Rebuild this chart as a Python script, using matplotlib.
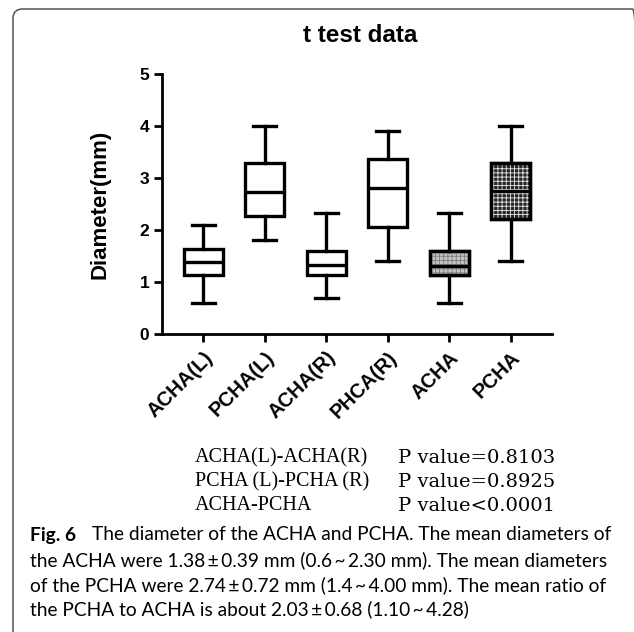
import matplotlib
matplotlib.use("Agg")
import matplotlib.pyplot as plt
from matplotlib.patches import FancyBboxPatch, Rectangle

categories = ["ACHA(L)", "PCHA(L)", "ACHA(R)", "PHCA(R)", "ACHA", "PCHA"]
whis_lo = [0.60, 1.80, 0.70, 1.40, 0.60, 1.40]
q1 = [1.13, 2.27, 1.13, 2.05, 1.14, 2.21]
median = [1.38, 2.73, 1.32, 2.80, 1.31, 2.75]
q3 = [1.63, 3.28, 1.59, 3.37, 1.59, 3.28]
whis_hi = [2.10, 4.00, 2.32, 3.90, 2.32, 4.00]
yticks = [0, 1, 2, 3, 4, 5]
title = "t test data"
ylabel = "Diameter(mm)"
pvalue_pairs = ["ACHA(L)-ACHA(R)", "PCHA (L)-PCHA (R)", "ACHA-PCHA"]
pvalue_texts = ["P value=0.8103", "P value=0.8925", "P value<0.0001"]
caption_lines = [
    "The diameter of the ACHA and PCHA. The mean diameters of",
    "the ACHA were 1.38\u2009\u00b1\u20090.39 mm (0.6\u2009~\u20092.30 mm). The mean diameters",
    "of the PCHA were 2.74\u2009\u00b1\u20090.72 mm (1.4\u2009~\u20094.00 mm). The mean ratio of",
    "the PCHA to ACHA is about 2.03\u2009\u00b1\u20090.68 (1.10\u2009~\u20094.28)",
]

W, H = 634, 632
fig = plt.figure(figsize=(W / 100, H / 100), dpi=100)
fig.patch.set_facecolor("white")
plt.rcParams["hatch.linewidth"] = 0.6

def fx(px):
    return px / W

def fy(py):
    return 1 - py / H

# outer rounded frame
frame = FancyBboxPatch((fx(13), fy(660)), fx(642) - fx(13), fy(9) - fy(660),
                       boxstyle="round,pad=0,rounding_size=0.015",
                       transform=fig.transFigure, facecolor="none",
                       edgecolor="#555555", linewidth=1.1, clip_on=False)
fig.patches.append(frame)

ax = fig.add_axes([fx(162), fy(334), fx(552) - fx(162), fy(74) - fy(334)])
stats = []
for i, c in enumerate(categories):
    stats.append(dict(label=c, whislo=whis_lo[i], q1=q1[i], med=median[i],
                      q3=q3[i], whishi=whis_hi[i], fliers=[]))
lw = 2.4
bp = ax.bxp(stats, positions=range(len(categories)), widths=0.64,
            capwidths=0.37, patch_artist=True, showfliers=False,
            boxprops=dict(facecolor="white", edgecolor="black", linewidth=lw),
            medianprops=dict(color="black", linewidth=lw),
            whiskerprops=dict(color="black", linewidth=lw),
            capprops=dict(color="black", linewidth=lw))

fills = {4: ("#c4c4c4", "#7a7a7a"), 5: ("#262626", "#e8e8e8")}
for idx, (fc, hc) in fills.items():
    box = bp["boxes"][idx]
    box.set_facecolor(fc)
    verts = box.get_path().vertices
    x0, x1 = verts[:, 0].min(), verts[:, 0].max()
    y0, y1 = verts[:, 1].min(), verts[:, 1].max()
    r = Rectangle((x0, y0), x1 - x0, y1 - y0, facecolor="none", edgecolor=hc,
                  hatch="++++", linewidth=0, zorder=box.get_zorder() + 0.1)
    ax.add_patch(r)
    r2 = Rectangle((x0, y0), x1 - x0, y1 - y0, facecolor="none", edgecolor="black",
                   linewidth=lw, zorder=box.get_zorder() + 0.2)
    ax.add_patch(r2)
for m in bp["medians"]:
    m.set_zorder(5)

ax.set_xlim(-0.67, 5.67)
ax.set_ylim(0, 5)
ax.set_yticks(yticks)
ax.set_xticks(range(len(categories)))
ax.set_xticklabels(categories, rotation=45, ha="right", va="top",
                   rotation_mode="anchor", fontsize=14.5, fontweight="bold",
                   family="Liberation Sans")
for t in ax.get_yticklabels():
    t.set_fontsize(12.5)
    t.set_fontweight("bold")
    t.set_family("Liberation Sans")
ax.tick_params(axis="both", width=2, length=6, color="black")
ax.tick_params(axis="x", pad=4)
ax.tick_params(axis="y", pad=3)
for s in ["top", "right"]:
    ax.spines[s].set_visible(False)
for s in ["left", "bottom"]:
    ax.spines[s].set_linewidth(2)
ax.set_ylabel(ylabel, fontsize=16, fontweight="bold", family="Liberation Sans")
ax.yaxis.set_label_coords((111 - 162) / (552 - 162), 0.5)

fig.text(fx(360), fy(35), title, ha="center", va="center", fontsize=17.5,
         fontweight="bold", family="Liberation Sans")

ys = [458, 482, 506]
for i in range(3):
    fig.text(fx(195), fy(ys[i]), pvalue_pairs[i], ha="left", va="center",
             fontsize=14.5, family="Liberation Serif")
    fig.text(fx(398), fy(ys[i]), pvalue_texts[i], ha="left", va="center",
             fontsize=14, family="DejaVu Serif")

cys = [535, 560, 585, 609]
fig.text(fx(30), fy(cys[0]), "Fig. 6", ha="left", va="center", fontsize=13.8,
         fontweight="bold", family="Lato")
fig.text(fx(92), fy(cys[0]), caption_lines[0], ha="left", va="center",
         fontsize=13.8, family="Lato")
for i in range(1, 4):
    fig.text(fx(30), fy(cys[i]), caption_lines[i], ha="left", va="center",
             fontsize=13.8, family="Lato")

fig.savefig("out.png", dpi=100, facecolor="white")
